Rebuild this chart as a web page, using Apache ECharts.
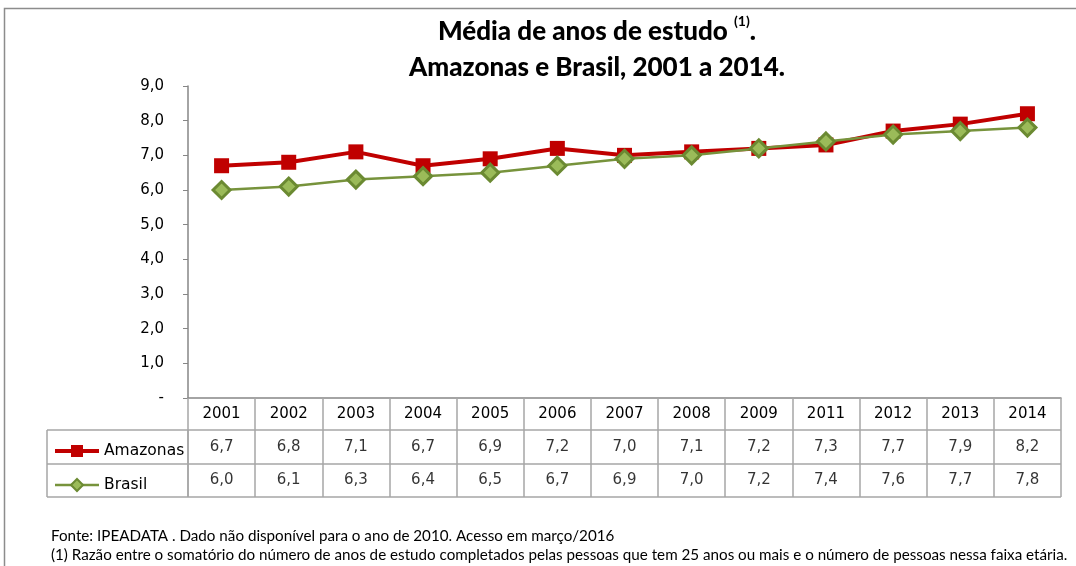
<!DOCTYPE html>
<html>
<head>
<meta charset="utf-8">
<script src="https://cdn.jsdelivr.net/npm/echarts@6/dist/echarts.min.js"></script>
<style>
  html, body { margin: 0; padding: 0; background: #fff; }
  #chart { width: 1076px; height: 566px; }
</style>
</head>
<body>
<div id="chart"></div>
<script>
var years = ['2001', '2002', '2003', '2004', '2005', '2006', '2007', '2008', '2009', '2011', '2012', '2013', '2014'];
var amazonas = [6.7, 6.8, 7.1, 6.7, 6.9, 7.2, 7.0, 7.1, 7.2, 7.3, 7.7, 7.9, 8.2];
var brasil = [6.0, 6.1, 6.3, 6.4, 6.5, 6.7, 6.9, 7.0, 7.2, 7.4, 7.6, 7.7, 7.8];
var rows = ['Amazonas', 'Brasil'];

var numFont = 'DejaVu Sans, Verdana, sans-serif';
var gridGray = '#a6a6a6';

function fmt(v) {
  return v.toFixed(1).replace('.', ',');
}

var chart = echarts.init(document.getElementById('chart'));

function cells(vals, row) {
  var out = [];
  for (var i = 0; i < years.length; i++) {
    out.push([years[i], row, vals[i]]);
  }
  return out;
}

var tableLabel = {
  show: true,
  position: 'inside',
  color: '#000',
  fontFamily: numFont,
  fontSize: 15,
  formatter: function (p) { return fmt(p.value[2]); }
};

var option = {
  animation: false,
  backgroundColor: '#fff',
  title: [{
    text: 'Média de anos de estudo {sup|(1)}.\nAmazonas e Brasil, 2001 a 2014.',
    left: 592,
    top: 9,
    textAlign: 'center',
    textStyle: {
      fontFamily: 'Lato, sans-serif',
      fontWeight: 900,
      fontSize: 26,
      color: '#000',
      lineHeight: 36,
      rich: {
        sup: { fontSize: 14, fontWeight: 'bold', fontFamily: 'Lato, sans-serif', verticalAlign: 'top', padding: [0, 0, 12, 0] }
      }
    }
  }, {
    text: 'Fonte: IPEADATA . Dado não disponível para o ano de 2010. Acesso em março/2016\n(1) Razão entre o somatório do número de anos de estudo completados pelas pessoas que tem 25 anos ou mais e o número de pessoas nessa faixa etária.',
    left: 46,
    top: 522,
    textStyle: {
      fontFamily: 'Lato, sans-serif',
      fontWeight: 'normal',
      fontSize: 15.2,
      color: '#000',
      lineHeight: 19
    }
  }],
  graphic: [{
    type: 'rect',
    shape: { x: 4.5, y: 8.5, width: 1200, height: 700 },
    style: { fill: 'none', stroke: '#8c8c8c', lineWidth: 1.5 },
    silent: true
  }],
  legend: {
    orient: 'vertical',
    left: 48,
    top: 438,
    itemWidth: 44,
    itemHeight: 15,
    itemGap: 18,
    textStyle: { fontFamily: numFont, fontSize: 15.5, color: '#000' },
    data: [
      { name: 'Amazonas', lineStyle: { width: 4 } },
      { name: 'Brasil', lineStyle: { width: 2.5 } }
    ]
  },
  grid: [
    { left: 188, right: 15, top: 86, height: 312 },
    { left: 188, right: 15, top: 430, height: 67 },
    { left: 47, width: 141, top: 430, height: 67 }
  ],
  xAxis: [{
    gridIndex: 0,
    type: 'category',
    data: years,
    boundaryGap: true,
    axisLine: { lineStyle: { color: '#868686', width: 1.5 } },
    axisTick: { show: true, interval: 0, length: 32, lineStyle: { color: gridGray, width: 1.5 } },
    axisLabel: { interval: 0, margin: 9, color: '#000', fontFamily: numFont, fontSize: 15 }
  }, {
    gridIndex: 1,
    type: 'category',
    data: years,
    boundaryGap: true,
    axisLine: { show: false },
    axisTick: { show: false },
    axisLabel: { show: false },
    splitLine: { show: true, interval: 0, lineStyle: { color: gridGray, width: 1.5 } }
  }, {
    gridIndex: 2,
    type: 'category',
    data: [''],
    axisLine: { show: false },
    axisTick: { show: false },
    axisLabel: { show: false },
    splitLine: { show: true, interval: 0, lineStyle: { color: gridGray, width: 1.5 } }
  }],
  yAxis: [{
    gridIndex: 0,
    type: 'value',
    min: 0,
    max: 9,
    interval: 1,
    axisLine: { show: true, lineStyle: { color: '#868686', width: 1.5 } },
    axisTick: { show: true, length: 5, lineStyle: { color: '#868686' } },
    splitLine: { show: false },
    axisLabel: {
      margin: 24,
      color: '#000',
      fontFamily: numFont,
      fontSize: 15,
      formatter: function (v) { return v === 0 ? '-' : fmt(v); }
    }
  }, {
    gridIndex: 1,
    type: 'category',
    data: rows,
    inverse: true,
    axisLine: { show: false },
    axisTick: { show: false },
    axisLabel: { show: false },
    splitLine: { show: true, interval: 0, lineStyle: { color: gridGray, width: 1.5 } }
  }, {
    gridIndex: 2,
    type: 'category',
    data: rows,
    inverse: true,
    axisLine: { show: false },
    axisTick: { show: false },
    axisLabel: { show: false },
    splitLine: { show: true, interval: 0, lineStyle: { color: gridGray, width: 1.5 } }
  }],
  series: [{
    name: 'Amazonas',
    type: 'line',
    xAxisIndex: 0,
    yAxisIndex: 0,
    data: amazonas,
    symbol: 'rect',
    symbolSize: 15,
    lineStyle: { color: '#c00000', width: 4 },
    itemStyle: { color: '#c00000' },
    z: 3
  }, {
    name: 'Brasil',
    type: 'line',
    xAxisIndex: 0,
    yAxisIndex: 0,
    data: brasil,
    symbol: 'diamond',
    symbolSize: 17,
    lineStyle: { color: '#77933c', width: 2.5 },
    itemStyle: { color: '#9bbb59', borderColor: '#6b8a32', borderWidth: 3 },
    z: 4
  }, {
    name: 'tabela-amazonas',
    type: 'scatter',
    xAxisIndex: 1,
    yAxisIndex: 1,
    symbolSize: 0,
    data: cells(amazonas, 'Amazonas'),
    label: tableLabel
  }, {
    name: 'tabela-brasil',
    type: 'scatter',
    xAxisIndex: 1,
    yAxisIndex: 1,
    symbolSize: 0,
    data: cells(brasil, 'Brasil'),
    label: tableLabel
  }]
};

chart.setOption(option);
</script>
</body>
</html>
